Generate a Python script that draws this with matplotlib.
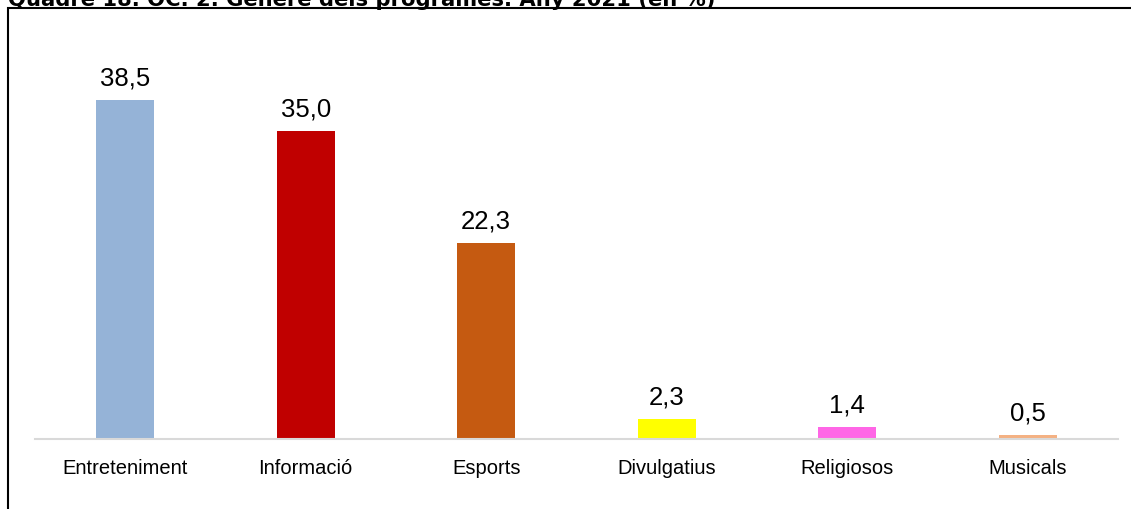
import matplotlib.pyplot as plt
from matplotlib.patches import Rectangle

categories = ['Entreteniment', 'Informació', 'Esports', 'Divulgatius', 'Religiosos', 'Musicals']
values = [38.5, 35.0, 22.3, 2.3, 1.4, 0.5]
labels = ['38,5', '35,0', '22,3', '2,3', '1,4', '0,5']
colors = ['#95B3D7', '#C00000', '#C55A11', '#FFFF00', '#FF66E6', '#F4B183']

W, H = 1131, 510
fig = plt.figure(figsize=(W / 100, H / 100), dpi=100)

# outer frame (bottom and right edges lie off the picture)
fig.patches.append(Rectangle((8 / W, -0.05), (W + 10 - 8) / W, (H - 9) / H + 0.05,
                             transform=fig.transFigure, fill=False,
                             edgecolor='black', linewidth=1.5))
fig.text(8 / W, 1.0 - 6 / H, 'Quadre 18. OC. 2. Gènere dels programes. Any 2021 (en %)',
         fontsize=15.2, fontweight='bold', va='baseline', ha='left')

ax = fig.add_axes([35 / W, (H - 440) / H, (1118 - 35) / W, (440 - 30) / H])
x = range(len(categories))
bars = ax.bar(x, values, width=0.32, color=colors)
for b, lab in zip(bars, labels):
    ax.text(b.get_x() + b.get_width() / 2, b.get_height() + 1.2, lab,
            ha='center', va='bottom', fontsize=18.5, family=['Liberation Sans', 'DejaVu Sans'])

ax.set_xlim(-0.5, 5.5)
ax.set_ylim(0, 46.6)
ax.set_yticks([])
ax.set_xticks(list(x))
ax.set_xticklabels(categories, fontsize=14.5, family=['Liberation Sans Narrow', 'Liberation Sans'])
ax.tick_params(axis='x', length=0, pad=14)
for s in ['top', 'right', 'left']:
    ax.spines[s].set_visible(False)
ax.spines['bottom'].set_color('#D9D9D9')
ax.spines['bottom'].set_linewidth(1.5)

fig.savefig('out.png', dpi=100)
